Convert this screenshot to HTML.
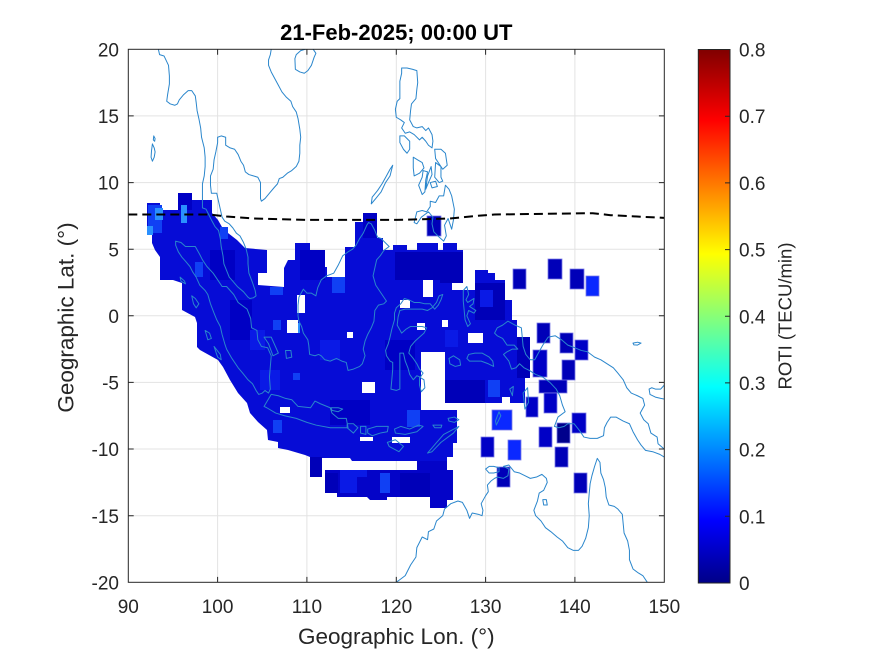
<!DOCTYPE html>
<html><head><meta charset="utf-8"><style>
html,body{margin:0;padding:0;background:#fff;}
svg{display:block;}
text{font-family:"Liberation Sans",Arial,sans-serif;fill:#262626;}
.cl{fill:none;stroke:#2a86cc;stroke-width:1;stroke-linejoin:round;}
</style></head><body>
<svg width="875" height="656" viewBox="0 0 875 656" xmlns="http://www.w3.org/2000/svg">
<defs>
<clipPath id="ax"><rect x="128.3" y="49.3" width="536" height="533"/></clipPath>
<linearGradient id="jet" x1="0" y1="1" x2="0" y2="0">
<stop offset="0" stop-color="rgb(0,0,135)"/>
<stop offset="0.117" stop-color="rgb(0,0,255)"/>
<stop offset="0.367" stop-color="rgb(0,255,255)"/>
<stop offset="0.617" stop-color="rgb(255,255,0)"/>
<stop offset="0.867" stop-color="rgb(255,0,0)"/>
<stop offset="1" stop-color="rgb(128,0,0)"/>
</linearGradient>
</defs>
<rect x="0" y="0" width="875" height="656" fill="#fff"/>
<path stroke="#e3e3e3" stroke-width="1" d="M217.6 49.3V582.3M306.9 49.3V582.3M396.3 49.3V582.3M485.6 49.3V582.3M574.9 49.3V582.3M128.3 115.9H664.3M128.3 182.6H664.3M128.3 249.2H664.3M128.3 315.8H664.3M128.3 382.4H664.3M128.3 449H664.3M128.3 515.7H664.3"/>
<g clip-path="url(#ax)">
<polygon fill="#060cd6" points="147,203 160,203 160,210 178,210 178,193 192,193 192,200 212,200 212,213 218,220 222,227 228,233 237,240 245,248 267,250 267,273 258,273 258,285 284,287 284,268 288,260 295,260 295,243 310,243 310,252 315,252 315,267 327,267 327,277 345,277 345,247 355,247 355,222 363,222 363,213 377,213 377,238 383,238 383,250 393,250 393,245 407,245 407,250 417,250 417,243 438,243 438,250 443,250 443,243 457,243 457,250 463,250 463,290 475,290 475,270 488,270 488,273 495,273 495,280 505,280 505,300 512,300 512,320 517,320 517,337 530,337 530,378 525,378 525,403 510,403 510,397 502,397 502,403 443,403 443,410 457,410 457,443 453,443 453,457 447,457 447,461 417,461 352,461 350,458 322,458 310,457 305,455 288,450 278,448 278,442 268,440 267,430 258,422 250,413 247,403 238,393 230,380 223,367 218,360 200,350 197,347 197,323 195,317 182,310 182,283 173,280 160,280 160,257 155,250 152,243 152,235 147,235"/>
<polygon fill="#0404c8" points="325,470 417,470 417,461 447,461 447,470 453,470 453,500 447,500 447,508 430,508 430,497 387,497 387,500 370,500 367,497 337,497 337,493 325,493"/>
<path fill="#0000b8" d="M310 457h12v20h-12zM395 252h45v28h-45zM475 283h30v37h-30zM443 380h42v23h-42zM517 337h13v41h-13zM325 473h13v20h-13zM400 473h30v24h-30zM440 252h23v31h-23z"/>
<path fill="#0000c4" d="M178 193h14v17h-14zM363 213h14v25h-14zM230 300h22v40h-22zM330 400h40v25h-40zM300 250h25v30h-25zM385 340h30v30h-30zM210 250h25v30h-25z"/>
<path fill="#1040f4" d="M148 205h14v28h-14zM220 227h8v12h-8zM195 262h8v15h-8zM270 287h13v8h-13zM273 320h8v10h-8zM332 277h13v16h-13zM273 420h9v13h-9zM407 410h13v17h-13zM488 380h12v17h-12zM380 473h10v20h-10zM293 373h7v7h-7z"/>
<path fill="#0a1ae6" d="M445 330h13v17h-13zM480 290h13v17h-13zM340 470h17v23h-17zM357 470h10v7h-10zM250 330h15v20h-15zM260 370h20v20h-20zM320 340h20v20h-20z"/>
<path fill="#2a90ff" d="M155 208h8v12h-8zM181 205h6v18h-6zM147 226h6v9h-6zM295 323h5v10h-5z"/>
<path fill="#fff" d="M297 295h8v18h-8zM287 320h11v13h-11zM347 332h6v6h-6zM362 382h13v11h-13zM280 407h10v6h-10zM360 437h13v4h-13zM392 437h18v6h-18zM423 280h10v17h-10zM452 283h11v7h-11zM400 300h10v8h-10zM417 323h8v7h-8zM442 320h6v7h-6zM468 333h15v10h-15zM421 352h24v51h-24zM421 403h22v7h-22z"/>
<g stroke="#7a7ae6" stroke-width="0.8">
<path fill="#0000b8" d="M427 216h14v20h-14zM513 269h13v20h-13zM548 259h14v20h-14zM570 269h14v20h-14zM537 323h13v20h-13zM560 333h13v20h-13zM562 360h13v20h-13zM555 447h13v20h-13zM574 473h13v20h-13zM539 380h28v13h-28zM497 467h13v20h-13z"/>
<path fill="#0000c6" d="M575 340h13v20h-13zM533 350h14v27h-14zM544 393h13v20h-13zM526 397h12v20h-12zM572 413h14v20h-14zM539 427h13v20h-13zM481 437h13v20h-13z"/>
<path fill="#00008c" d="M557 423h13v20h-13z"/>
<path fill="#0a28ff" d="M586 276h13v20h-13zM508 440h13v20h-13zM492 410h20v20h-20z"/>
</g>
<g transform="matrix(8.933,0,0,-13.325,-675.67,315.8)">
<path vector-effect="non-scaling-stroke" class="cl" d="
M93.3,20.2 L93.5,19.6 94.0,19.5 94.5,18.8 94.6,18.0 94.6,17.4 94.4,16.6 94.3,16.1 94.7,15.9 95.2,15.8 95.5,15.9 95.7,16.2 96.2,16.6 96.7,16.9 97.1,16.9 97.5,16.5 97.6,16.0 97.7,15.4 97.9,14.8 98.1,14.1 98.2,13.4 98.5,12.6 98.6,11.9 98.6,11.2 98.5,10.5 98.3,9.9 98.3,9.2 98.3,8.5 98.3,8.1 98.7,8.0 99.0,7.6 99.3,7.2 99.7,6.7 100.1,6.4 100.3,5.8 100.4,5.2 100.6,4.5 100.7,3.9 101.0,3.4 101.3,2.9 101.7,2.6 102.2,2.2 102.9,1.8 103.4,1.4 103.6,1.3 104.0,1.35 104.3,1.5 104.2,1.9 103.9,2.5 103.5,3.2 103.4,3.9 103.4,4.4 103.2,5.0 102.9,5.5 102.5,6.0 102.1,6.2 101.7,6.6 101.3,6.9 100.8,7.1 100.5,7.4 100.3,8.0 100.1,8.6 99.9,9.2 99.3,9.2 99.2,9.8 99.2,10.5 99.5,11.0 99.6,11.7 99.8,12.3 100.0,13.0 100.0,13.4 100.4,13.5 100.9,13.4 100.9,12.8 101.4,12.6 101.9,12.5 102.3,12.1 102.6,11.6 102.9,11.3 103.1,10.8 103.5,10.6 104.0,10.5 104.5,10.4 104.8,10.0 104.8,9.5 104.8,8.8 104.9,8.6 105.3,8.8 105.8,9.2 106.3,9.6 106.7,9.9 106.9,10.3 107.3,10.4 107.8,10.7 108.3,10.9 108.8,11.2 109.1,11.6 109.2,12.2 109.2,12.8 109.3,13.4 109.2,14.0 109.0,14.8 108.8,15.3 108.4,15.7 108.2,16.1 107.7,16.4 107.2,16.8 106.8,17.3 106.4,17.8 106.0,18.3 105.7,18.8 105.7,19.2 105.9,19.6 106.0,20.0 106.3,20.4
M108.65,19.3 L108.7,18.5 109.2,18.3 109.7,18.2 110.1,18.4 110.5,18.8 110.8,19.4 111.0,19.7 110.7,20.0 110.3,20.1 109.8,20.0 109.3,19.9 108.8,19.6Z
M92.7,12.9 L92.9,12.6 93.0,12.3 92.9,11.9 92.7,11.6 92.55,11.9 92.6,12.4Z
M92.85,13.5 L93.0,13.3 92.95,13.1 92.8,13.2Z
M95.3,5.6 L95.9,5.5 96.4,5.2 97.0,5.2 97.5,5.2 98.0,4.6 98.3,4.2 98.8,3.7 99.5,3.2 100.0,2.7 100.5,2.2 101.0,2.2 101.4,1.9 101.8,1.6 102.3,1.0 102.9,0.7 103.3,0.5 103.7,-0.2 103.8,-0.9 104.4,-1.1 104.5,-1.8 104.9,-2.3 105.6,-2.4 106.0,-3.0 105.9,-3.8 105.8,-4.6 105.9,-5.5 105.7,-5.8 105.3,-5.6 105.0,-5.8 104.6,-5.9 104.3,-5.6 103.9,-5.1 103.4,-4.8 102.8,-4.3 102.3,-3.9 101.6,-3.2 101.0,-2.5 100.8,-2.1 100.5,-1.4 100.3,-0.8 99.9,-0.3 99.6,0.2 99.2,0.9 98.9,1.6 98.6,1.9 98.0,2.3 97.6,2.9 97.2,3.3 96.9,3.7 96.4,4.1 96.0,4.4 95.6,4.8 95.3,5.3Z
M95.8,2.9 L96.3,2.6 96.4,2.4 95.9,2.6Z
M97.1,1.5 L97.5,1.3 97.9,0.9 97.6,0.6 97.3,0.9Z
M98.6,-1.1 L99.1,-1.3 99.3,-1.7 98.9,-1.8Z
M99.6,-2.3 L100.3,-2.9 100.4,-3.3 100.0,-3.1Z
M105.2,-6.8 L106.0,-5.9 106.8,-6.0 107.6,-6.2 108.3,-6.3 109.0,-6.8 110.4,-6.9 110.9,-6.4 111.5,-6.6 112.6,-6.9 112.8,-7.3 113.5,-7.7 114.4,-7.7 114.6,-8.4 113.7,-8.4 112.6,-8.4 111.0,-8.2 110.0,-8.0 108.8,-7.7 107.5,-7.5 106.5,-7.3 105.5,-6.9Z
M112.7,-6.9 L113.5,-6.9 114.0,-7.0 113.5,-7.2 112.8,-7.1Z
M114.5,-8.1 L115.2,-8.1 115.7,-8.4 115.2,-8.8 114.5,-8.4Z
M116.0,-8.3 L116.6,-8.3 116.6,-8.9 116.0,-8.8Z
M116.8,-8.5 L117.8,-8.3 118.3,-8.3 119.1,-8.3 119.0,-8.7 118.2,-8.8 117.3,-9.0 116.8,-8.8Z
M119.8,-8.5 L120.5,-8.3 121.5,-8.5 122.5,-8.2 123.0,-8.3 122.3,-8.7 121.0,-8.9 119.9,-8.8Z
M119.0,-9.5 L119.9,-9.3 120.8,-9.8 120.3,-10.2 119.2,-9.8Z
M123.5,-10.3 L124.4,-9.6 125.3,-8.9 127.0,-8.3 126.4,-8.8 125.0,-9.5 124.0,-10.2Z
M125.8,-7.7 L126.5,-7.6 127.0,-7.8 126.5,-8.0 125.9,-7.9Z
M124.1,-8.2 L125.1,-8.2 125.0,-8.4 124.3,-8.4Z
M105.2,-1.6 L106.0,-1.6 106.8,-2.8 106.2,-3.0 105.7,-2.1Z
M107.6,-2.6 L108.2,-2.6 108.3,-3.1 107.7,-3.2Z
M109.0,0.0 L109.0,0.8 109.1,1.4 109.6,2.0 110.0,1.7 110.5,1.7 111.0,1.5 111.2,2.1 111.6,2.7 112.2,3.0 113.0,3.2 113.5,3.8 114.0,4.5 114.6,4.8 115.1,5.0 115.5,5.3 115.9,5.8 116.3,6.2 116.7,6.8 116.9,7.0 117.2,6.9 117.6,6.4 117.9,5.9 118.3,5.8 118.9,5.4 119.2,5.2 118.6,4.9 118.2,4.5 117.8,4.2 117.6,3.6 117.4,3.0 117.7,2.3 118.1,1.9 118.9,1.1 118.6,0.9 118.0,0.8 117.6,0.4 117.5,-0.4 117.2,-0.9 116.8,-1.4 116.5,-1.9 116.3,-2.5 116.5,-3.0 116.2,-3.6 115.9,-3.8 115.2,-4.0 114.6,-4.1 114.4,-3.5 113.9,-3.4 113.3,-3.2 112.6,-3.4 112.0,-3.3 111.6,-3.0 111.3,-2.9 110.9,-3.0 110.3,-2.9 110.2,-2.2 110.1,-1.8 109.6,-1.3 109.4,-0.8 109.1,-0.4Z
M119.4,-5.5 L119.5,-4.8 119.6,-4.0 119.6,-3.5 119.3,-3.4 118.9,-3.0 118.8,-2.6 119.1,-2.1 119.3,-1.6 119.5,-1.0 119.8,-0.3 119.8,0.2 120.0,0.6 120.5,0.9 120.9,1.3 121.4,1.2 122.0,1.0 122.6,1.0 123.2,0.9 123.8,0.9 124.3,0.5 124.7,0.8 125.0,1.2 125.2,1.6 124.8,1.5 124.5,1.0 124.0,0.6 123.5,0.4 122.9,0.5 122.3,0.5 121.6,0.5 121.0,0.5 120.4,0.4 120.2,-0.1 120.1,-0.7 120.6,-1.3 121.1,-1.0 121.6,-0.8 122.3,-0.8 122.9,-0.8 123.4,-0.9 123.1,-1.3 122.6,-1.6 122.1,-1.9 121.6,-2.3 121.4,-2.8 121.9,-3.2 122.3,-3.6 122.6,-4.0 123.0,-4.3 122.7,-4.6 122.3,-4.5 121.9,-4.8 121.5,-4.4 121.3,-3.9 121.0,-3.4 120.8,-2.8 120.4,-2.8 120.4,-3.4 120.4,-4.1 120.4,-4.8 120.4,-5.5 120.0,-5.6Z
M122.6,-4.6 L123.1,-4.8 123.2,-5.4 122.8,-5.7 122.6,-5.2Z
M120.6,18.6 L121.2,18.6 121.8,18.5 122.3,18.4 122.4,17.5 122.3,17.0 122.2,16.3 121.7,15.9 121.6,15.4 121.5,14.7 121.9,14.2 122.3,14.1 122.9,14.2 123.3,13.9 123.6,14.1 124.0,13.6 124.1,13.1 124.0,12.6 123.6,12.8 123.3,13.1 122.9,13.4 122.6,13.2 122.0,13.6 121.5,13.8 121.0,13.7 120.6,14.1 120.9,14.5 120.5,14.7 120.0,14.9 119.9,15.5 120.1,16.1 120.4,16.3 120.4,16.9 120.4,17.6 120.6,18.2Z
M120.4,13.5 L120.9,13.5 121.5,13.1 121.5,12.5 121.2,12.2 120.8,12.5 120.4,13.0Z
M121.9,11.9 L122.4,11.7 122.9,11.5 123.1,11.1 122.6,10.7 122.0,10.5 121.9,11.1Z
M123.0,10.9 L123.5,10.8 123.3,10.2 123.2,9.3 122.9,9.1 122.5,9.8 122.9,10.4Z
M123.9,11.2 L124.0,10.6 123.6,10.0 123.3,9.5 123.5,10.5Z
M123.8,10.0 L124.4,10.1 124.6,9.7 124.0,9.6Z
M124.3,12.5 L125.0,12.5 125.5,12.2 125.7,11.3 125.2,11.0 124.8,11.4 124.4,11.8Z
M124.4,11.5 L125.0,11.2 125.0,10.4 125.2,10.1 124.8,10.0 124.3,10.4Z
M122.0,7.0 L122.3,7.8 122.9,7.9 123.4,7.8 123.8,8.2 123.8,8.6 124.4,8.5 124.8,9.0 125.3,9.0 125.5,9.8 125.9,9.5 126.2,9.0 126.5,8.0 126.4,7.2 126.2,6.5 125.8,7.3 125.4,6.8 125.6,6.0 125.3,5.6 124.8,5.9 124.2,6.3 124.0,6.9 124.1,7.4 123.6,7.8 123.2,7.6 122.8,7.4 122.3,6.9Z
M117.2,8.4 L117.7,8.8 118.3,9.3 118.8,10.0 119.3,10.5 119.6,11.3 119.3,11.0 118.9,10.5 118.4,9.9 117.9,9.4 117.3,8.9Z
M127.5,1.9 L127.9,2.2 128.1,1.6 127.8,1.2 128.0,1.0 128.7,1.3 128.6,0.9 128.2,0.7 128.9,0.4 128.7,0.2 128.1,0.4 127.9,0.0 128.3,-0.6 128.0,-0.8 127.7,-0.3 127.6,0.4 127.5,1.1Z
M128.1,-2.9 L128.8,-2.8 129.6,-2.8 130.4,-3.1 130.8,-3.4 130.9,-3.8 130.3,-3.6 129.5,-3.4 128.8,-3.4 128.2,-3.4 127.9,-3.2Z
M125.9,-3.2 L126.4,-3.0 127.1,-3.3 127.2,-3.7 126.6,-3.8 126.0,-3.6Z
M131.1,-7.9 L131.5,-7.2 131.7,-7.5 131.2,-8.2Z
M134.2,-5.8 L134.7,-5.4 134.8,-6.5 134.4,-7.0Z
M132.7,-5.5 L133.1,-5.3 133.0,-6.0Z
M131.0,-1.3 L131.3,-0.9 131.9,-0.7 132.5,-0.4 133.3,-0.7 134.0,-0.9 134.1,-1.6 134.2,-2.3 134.5,-2.9 135.0,-3.3 135.5,-3.3 135.9,-2.8 136.4,-2.2 137.0,-1.6 137.8,-1.5 138.5,-1.8 139.2,-2.2 140.0,-2.4 140.7,-2.6 141.4,-2.7 142.2,-3.1 142.9,-3.3 143.6,-3.6 144.3,-3.9 144.8,-4.3 145.4,-4.8 145.8,-5.4 146.3,-5.8 147.0,-6.0 147.6,-6.2 147.8,-6.7 147.3,-7.3 147.7,-7.8 148.2,-8.1 148.5,-8.8 149.2,-9.1 149.3,-9.6 150.0,-10.0 150.8,-10.4 150.5,-10.7 150.0,-10.6 149.5,-10.4 148.7,-10.2 147.9,-10.1 147.4,-9.7 147.0,-9.3 146.5,-8.7 146.1,-8.1 145.4,-7.9 144.6,-7.6 144.0,-7.6 143.6,-8.0 143.3,-8.4 143.2,-9.0 142.5,-9.2 141.7,-9.2 141.0,-9.1 140.5,-8.6 139.9,-8.1 139.2,-8.1 138.8,-8.3 138.2,-8.4 137.7,-8.3 138.1,-7.6 138.9,-7.2 138.6,-6.7 138.3,-6.0 137.9,-5.5 137.2,-5.0 136.4,-4.6 135.6,-4.4 134.9,-4.1 134.3,-3.9 133.8,-3.6 133.4,-3.9 132.9,-4.0 132.6,-3.4 132.0,-2.9 132.4,-2.7 133.0,-2.5 133.6,-2.5 133.2,-2.2 132.4,-2.2 131.9,-1.7 131.3,-1.5Z
M119.5,-20.2 L120.2,-19.9 121.0,-19.5 121.6,-18.7 122.2,-18.1 122.3,-17.4 122.9,-16.6 123.5,-16.8 123.6,-16.2 124.2,-16.0 124.5,-15.4 125.2,-15.0 125.4,-14.5 126.1,-14.1 126.9,-13.9 127.4,-14.0 127.9,-14.6 128.2,-15.2 128.5,-14.8 129.2,-14.9 129.6,-15.0 129.7,-14.6 129.5,-14.1 130.0,-13.5 130.3,-13.2 130.2,-12.7 130.6,-12.4 131.0,-12.2 131.3,-12.1 132.0,-12.2 132.5,-12.0 132.6,-11.5 132.0,-11.3 132.6,-11.2 133.2,-11.7 133.8,-11.8 134.4,-12.0 135.0,-12.2 135.7,-12.1 136.3,-11.9 136.8,-12.2 136.9,-12.5 136.5,-13.1 136.0,-13.3 135.8,-13.9 135.4,-14.6 135.6,-15.0 136.2,-15.4 136.7,-15.9 137.3,-16.2 138.0,-16.6 138.6,-16.9 139.2,-17.4 139.8,-17.6 140.4,-17.6 140.8,-17.3 141.2,-16.7 141.5,-15.9 141.6,-15.0 141.5,-14.1 141.6,-13.3 141.7,-12.6 141.9,-12.0 142.2,-11.3 142.5,-10.7 142.8,-11.0 142.9,-11.8 143.2,-12.3 143.4,-12.9 143.5,-13.6 143.8,-14.2 144.4,-14.3 144.8,-14.5 145.3,-14.9 145.4,-15.6 145.5,-16.3 145.9,-16.9 146.1,-17.6 146.1,-18.3 146.5,-19.0 147.1,-19.3 147.6,-19.5 148.1,-20.0 148.6,-20.4
M130.0,-11.5 L130.4,-11.3 130.9,-11.3 131.5,-11.4 131.5,-11.7 130.9,-11.8 130.4,-11.8Z
M136.4,-13.8 L136.8,-13.8 136.9,-14.2 136.5,-14.2Z
M148.3,-5.5 L148.6,-5.4 149.0,-5.5 149.6,-5.5 150.0,-5.2 150.5,-5.0 151,-5.0 151,-6.2 150.4,-6.3 149.6,-6.2 149.0,-6.1 148.4,-5.9Z
M146.5,-2.05 L147.0,-1.98 147.4,-2.05 147.0,-2.2 146.6,-2.18Z"/>
</g>
<polyline fill="none" stroke="#000" stroke-width="2" stroke-dasharray="9 5" points="128.3,214.5 208.7,214.5 226.6,216.5 253.4,218.5 307,219.9 396.3,219.9 449.9,218.5 476.7,215.9 494.5,214.5 592.8,213.2 610.7,215.2 664.3,217.9"/>
</g>
<rect x="128.3" y="49.3" width="536" height="533" fill="none" stroke="#262626" stroke-width="1"/>
<path stroke="#262626" stroke-width="1" fill="none" d="M217.6 582.3v-5.4M306.9 582.3v-5.4M396.3 582.3v-5.4M485.6 582.3v-5.4M574.9 582.3v-5.4M217.6 49.3v5.4M306.9 49.3v5.4M396.3 49.3v5.4M485.6 49.3v5.4M574.9 49.3v5.4M128.3 115.9h5.4M128.3 182.6h5.4M128.3 249.2h5.4M128.3 315.8h5.4M128.3 382.4h5.4M128.3 449h5.4M128.3 515.7h5.4M664.3 115.9h-5.4M664.3 182.6h-5.4M664.3 249.2h-5.4M664.3 315.8h-5.4M664.3 382.4h-5.4M664.3 449h-5.4M664.3 515.7h-5.4"/>
<g font-size="19" text-anchor="middle">
<text x="128.3" y="613">90</text><text x="217.6" y="613">100</text><text x="306.9" y="613">110</text><text x="396.3" y="613">120</text><text x="485.6" y="613">130</text><text x="574.9" y="613">140</text><text x="664.3" y="613">150</text>
</g>
<g font-size="19" text-anchor="end">
<text x="119" y="56.5">20</text><text x="119" y="123">15</text><text x="119" y="189.7">10</text><text x="119" y="256.3">5</text><text x="119" y="322.9">0</text><text x="119" y="389.5">-5</text><text x="119" y="456.1">-10</text><text x="119" y="522.8">-15</text><text x="119" y="589.4">-20</text>
</g>
<text x="396.3" y="644" font-size="22.5" text-anchor="middle">Geographic Lon. (°)</text>
<text transform="translate(73.5,317.5) rotate(-90)" font-size="22.5" text-anchor="middle">Geographic Lat. (°)</text>
<text x="396.3" y="40" font-size="22" font-weight="bold" text-anchor="middle" style="fill:#000">21-Feb-2025; 00:00 UT</text>
<rect x="698.3" y="49.5" width="31.7" height="533.5" fill="url(#jet)" stroke="#262626" stroke-width="1"/>
<path stroke="#262626" stroke-width="1" d="M730 116.2h-5M730 182.9h-5M730 249.6h-5M730 316.3h-5M730 382.9h-5M730 449.6h-5M730 516.3h-5"/>
<g font-size="19">
<text x="739" y="56.5">0.8</text><text x="739" y="123.2">0.7</text><text x="739" y="189.9">0.6</text><text x="739" y="256.6">0.5</text><text x="739" y="323.3">0.4</text><text x="739" y="389.9">0.3</text><text x="739" y="456.6">0.2</text><text x="739" y="523.3">0.1</text><text x="739" y="590">0</text>
</g>
<text transform="translate(791.5,316) rotate(-90)" font-size="18.5" text-anchor="middle">ROTI (TECU/min)</text>
</svg>
</body></html>
